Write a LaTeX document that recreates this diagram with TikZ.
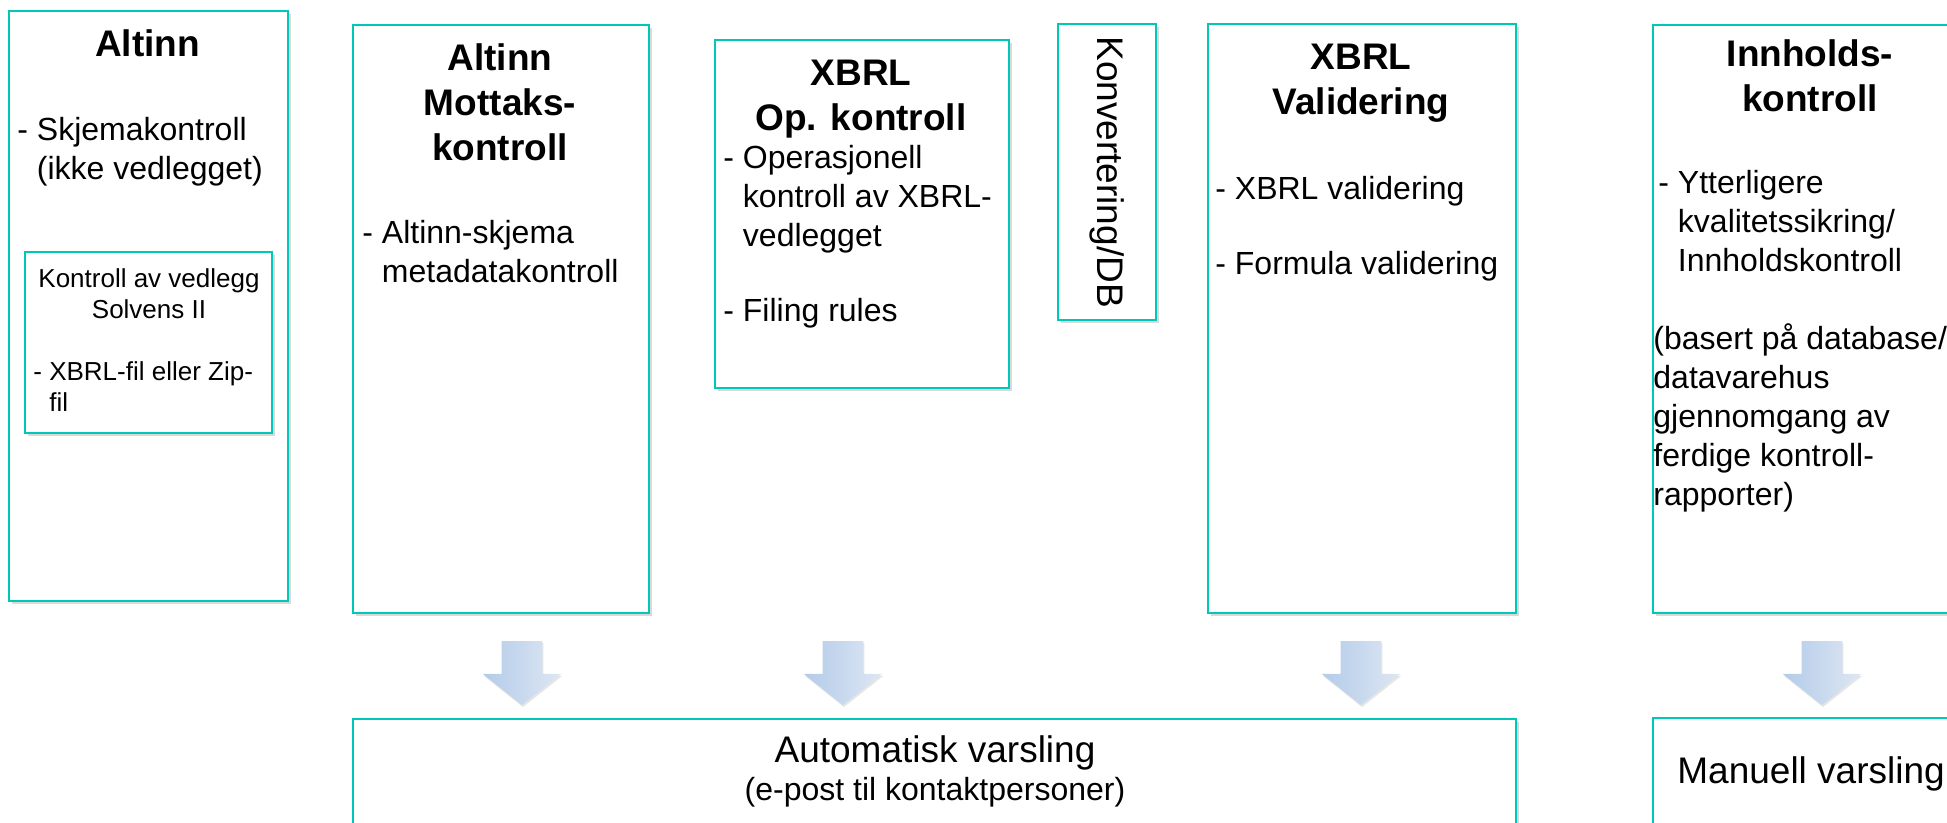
\documentclass[tikz,border=0pt]{standalone}
\usepackage{fontspec}
\setmainfont{Liberation Sans}
\usepackage{xcolor}
\usetikzlibrary{shapes.arrows,shadows}
\definecolor{boxteal}{HTML}{00C8B7}
\definecolor{arrowblue}{HTML}{B3CBE9}
\definecolor{arrowpale}{HTML}{DEE7F3}
\tikzset{
    check-box/.style = {draw=boxteal, fill=white, line width=1.1pt, rectangle, inner sep=0pt, anchor=north west, drop shadow={shadow xshift=1.2pt, shadow yshift=-1.5pt, opacity=0.3}},
    head-text/.style = {font=\fontsize{18.5}{22.5}\selectfont\bfseries, align=center, inner sep=0pt},
    body-text/.style = {font=\fontsize{16}{19.5}\selectfont, align=left, inner sep=0pt, anchor=north west},
    small-text/.style = {font=\fontsize{13}{15.5}\selectfont, inner sep=0pt},
    big-text/.style = {font=\fontsize{18.5}{22.5}\selectfont, inner sep=0pt},
    down-arrow/.style = {single arrow, rotate=-90, minimum height=32pt, inner xsep=0pt, inner ysep=10pt, single arrow head extend=9.5pt, single arrow tip angle=103, left color=arrowblue, right color=arrowpale, draw=none, drop shadow={shadow xshift=0.5pt, shadow yshift=-1pt, opacity=0.2}},
}

\begin{document}
\begin{tikzpicture}[x=0.5pt, y=-0.5pt]
\useasboundingbox (0,0) rectangle (1947,823);
\clip (0,0) rectangle (1947,823);

\node[check-box, minimum width=139.5pt, minimum height=295pt] (altinn) at (8,10) {};
\node[head-text, anchor=base] (altinn-head) at (147.5,57) {Altinn};
\node[body-text] (altinn-body) at (17,112.7) {\strut-~Skjemakontroll\\\hphantom{-~}(ikke vedlegget)};
\node[check-box, minimum width=123.5pt, minimum height=90.5pt] (vedlegg) at (24,251) {};
\node[small-text, align=center, anchor=north] (vedlegg-head) at (149,265.3) {\strut Kontroll av vedlegg\\Solvens II};
\node[small-text, align=left, anchor=north west] (vedlegg-body) at (33,358.3) {\strut-~XBRL-fil eller Zip-\\\hphantom{-~}fil};

\node[check-box, minimum width=148pt, minimum height=294pt] (mottak) at (352,24) {};
\node[head-text, anchor=north] (mottak-head) at (500,38.5) {\strut Altinn\\Mottaks-\\kontroll};
\node[body-text] (mottak-body) at (362,215.7) {\strut-~Altinn-skjema\\\hphantom{-~}metadatakontroll};

\node[check-box, minimum width=147pt, minimum height=174pt] (op) at (714,39) {};
\node[head-text, anchor=north] (op-head) at (861,53.5) {\strut XBRL\\Op. kontroll};
\node[body-text] (op-body) at (723,140.7) {\strut-~Operasjonell\\\hphantom{-~}kontroll av XBRL-\\\hphantom{-~}vedlegget};
\node[body-text, anchor=base west] (op-rules) at (723,322) {-~Filing rules};

\node[check-box, minimum width=49pt, minimum height=148pt] (konvertering) at (1057,23) {};
\node[big-text, rotate=-90] (konvertering-text) at (konvertering.center) {Konvertering/DB};

\node[check-box, minimum width=154pt, minimum height=294.5pt] (validering) at (1207,23) {};
\node[head-text, anchor=north] (validering-head) at (1361,37.5) {\strut XBRL\\Validering};
\node[body-text, anchor=base west] (validering-xbrl) at (1215,200) {-~XBRL validering};
\node[body-text, anchor=base west] (validering-formula) at (1215,275) {-~Formula validering};

\node[check-box, minimum width=158pt, minimum height=294pt] (innhold) at (1652,24) {};
\node[head-text, anchor=north] (innhold-head) at (1810,34.5) {\strut Innholds-\\kontroll};
\node[body-text] (innhold-body) at (1658,165.7) {\strut-~Ytterligere\\\hphantom{-~}kvalitetssikring/\\\hphantom{-~}Innholdskontroll};
\node[body-text] (innhold-note) at (1653,321.7) {\strut(basert på database/\\datavarehus\\gjennomgang av\\ferdige kontroll-\\rapporter)};

\node[down-arrow] (pil-mottak) at (522,665) {};
\node[down-arrow] (pil-op) at (843,665) {};
\node[down-arrow] (pil-validering) at (1361,665) {};
\node[down-arrow] (pil-innhold) at (1822,665) {};

\node[check-box, minimum width=581.5pt, minimum height=100pt] (varsling-auto) at (352,718) {};
\node[big-text, anchor=base] (varsling-auto-head) at (935,762) {Automatisk varsling};
\node[body-text, anchor=base] (varsling-auto-sub) at (935,800) {(e-post til kontaktpersoner)};

\node[check-box, minimum width=158pt, minimum height=100pt] (varsling-manuell) at (1652,717) {};
\node[big-text, anchor=base west] (varsling-manuell-text) at (1677,783) {Manuell varsling};
\end{tikzpicture}
\end{document}
